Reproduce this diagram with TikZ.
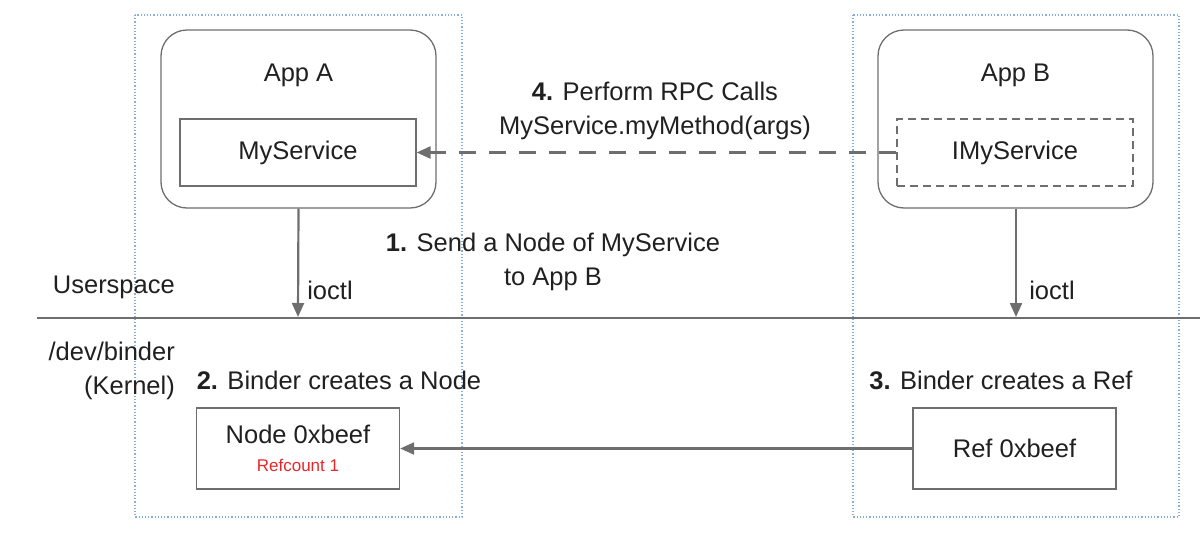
\documentclass[tikz,border=0pt]{standalone}
\usepackage{fontspec}
\setmainfont{Liberation Sans}
\usetikzlibrary{arrows.meta}
\definecolor{linegray}{HTML}{6E6E6E}
\definecolor{txt}{HTML}{202020}
\definecolor{dotblue}{HTML}{86AEDB}
\definecolor{refred}{HTML}{E8262A}
\begin{document}
\begin{tikzpicture}[x=1pt,y=-1pt,
  every node/.style={text=txt,font=\fontsize{25.5}{34}\selectfont,inner sep=0pt},
  appbox/.style={draw=linegray,line width=1.3pt,rounded corners=26pt,minimum width=275pt,minimum height=178pt},
  svcbox/.style={draw=linegray,line width=1.3pt,minimum width=236pt,minimum height=67pt},
  kbox/.style={draw=linegray,line width=1.3pt,minimum width=203pt,minimum height=81pt,align=center},
  zone/.style={draw=dotblue,line width=1.2pt,dotted},
  arr/.style={draw=linegray,line width=2.2pt,-{Triangle[length=14pt,width=12pt]}},
  lbl/.style={align=center}]
\useasboundingbox (0,0) rectangle (1200,536);
% zones
\draw[zone] (135,15) rectangle (462,517);
\draw[zone] (853,15) rectangle (1179,517);
% separator
\draw[draw=linegray,line width=1.2pt] (37,318) -- (1200,318);
% apps
\node[appbox] (appA) at (298.5,119) {};
\node (appAlabel) at (298.5,75) {App A};
\node[svcbox] (mysvc) at (298,152.5) {MyService};
\node[appbox] (appB) at (1015.5,119) {};
\node (appBlabel) at (1015.5,75) {App B};
\node[svcbox,dashed,dash pattern=on 8pt off 5pt] (imysvc) at (1015,152.5) {IMyService};
% kernel boxes
\node[kbox] (nodebox) at (298,448.5) {Node 0xbeef\\[-6pt]{\color{refred}\fontsize{17}{20}\selectfont Refcount 1}};
\node[kbox] (refbox) at (1014.5,448.5) {Ref 0xbeef};
% ioctl arrows
\coordinate (kA) at (298,317);
\coordinate (kB) at (1016,317);
\draw[arr] (appA.south) -- (kA);
\draw[arr] (appB.south -| kB) -- (kB);
\node (ioctlA) at (330,290) {ioctl};
\node (ioctlB) at (1052,290) {ioctl};
% rpc arrow
\draw[arr,line width=2.6pt,dash pattern=on 17pt off 13pt] (imysvc.west) -- (mysvc.east);
% kernel arrow
\draw[arr] (refbox.west) -- (nodebox.east);
% labels
\node[anchor=east] (user) at (175,287) {Userspace};
\node[anchor=east,align=right] (kern) at (175,371) {/dev/binder\\(Kernel)};
\node[lbl] (step1) at (553,262) {\textbf{1.} Send a Node of MyService\\to App B};
\node[lbl] (step4) at (655,111) {\textbf{4.} Perform RPC Calls\\MyService.myMethod(args)};
\node (step2) at (339,380) {\textbf{2.} Binder creates a Node};
\node (step3) at (1001,380) {\textbf{3.} Binder creates a Ref};
\end{tikzpicture}
\end{document}
